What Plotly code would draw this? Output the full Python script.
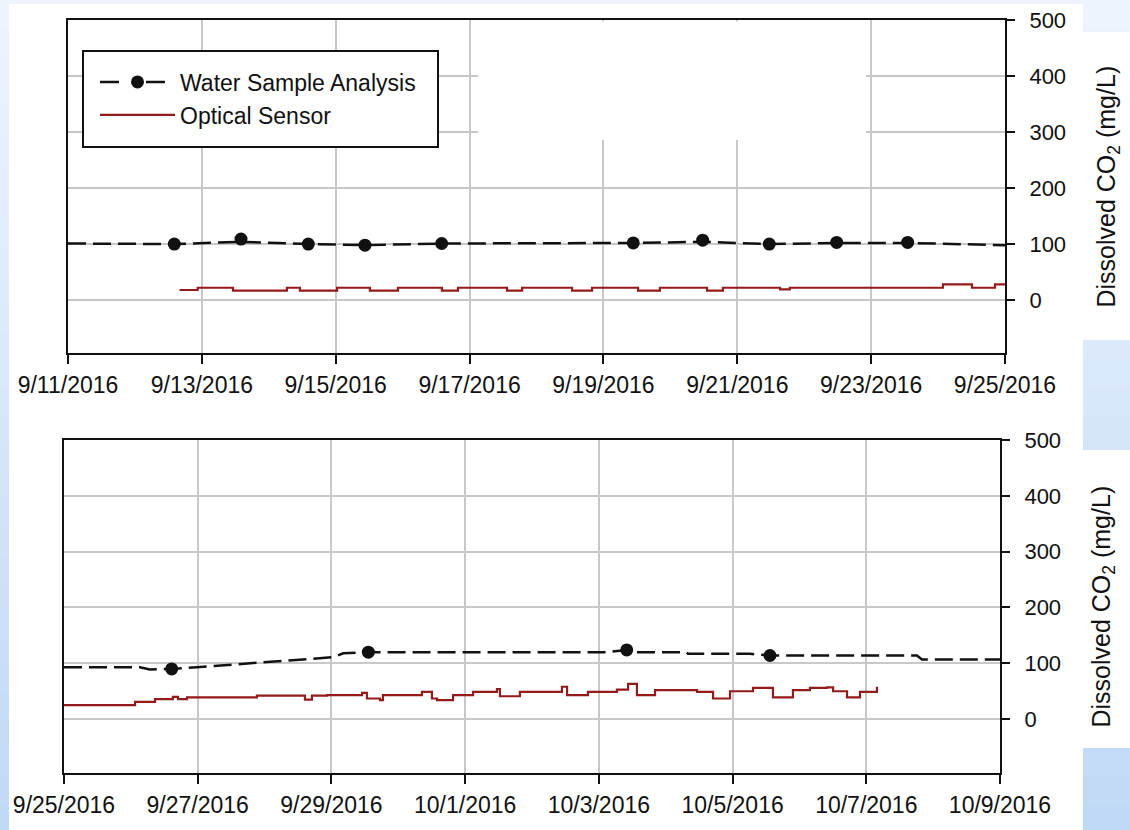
import plotly.graph_objects as go

W, H = 1130, 830

# ---------------- data ----------------
# Top panel: 9/11/2016 - 9/25/2016
top_sample_dates = ["2016-09-12 14:07", "2016-09-13 14:02", "2016-09-14 14:10", "2016-09-15 10:29",
                    "2016-09-16 14:00", "2016-09-19 10:42", "2016-09-20 11:35", "2016-09-21 11:28",
                    "2016-09-22 11:38", "2016-09-23 13:06"]
top_sample_co2 = [100, 109, 100, 98, 101, 102, 107, 100, 103, 103]

top_trend_dates = ["2016-09-11 00:00", "2016-09-12 14:07", "2016-09-13 14:02", "2016-09-14 14:10",
                   "2016-09-15 10:29", "2016-09-16 14:00", "2016-09-19 10:42", "2016-09-20 11:35",
                   "2016-09-21 11:28", "2016-09-22 11:38", "2016-09-23 13:06", "2016-09-25 00:00"]
top_trend_co2 = [101, 100, 104, 100, 98, 101, 102, 104, 100, 102, 102, 98]

top_sensor_dates = ["2016-09-12 16:00", "2016-09-12 22:30", "2016-09-13 11:10", "2016-09-14 06:30",
                    "2016-09-14 11:10", "2016-09-15 00:30", "2016-09-15 12:15", "2016-09-15 22:20",
                    "2016-09-16 14:05", "2016-09-16 19:50", "2016-09-17 13:25", "2016-09-17 18:50",
                    "2016-09-18 12:45", "2016-09-18 19:55", "2016-09-19 12:25", "2016-09-19 20:15",
                    "2016-09-20 13:10", "2016-09-20 18:50", "2016-09-21 15:20", "2016-09-21 18:50",
                    "2016-09-24 01:45", "2016-09-24 12:10", "2016-09-24 20:25", "2016-09-25 00:00"]
top_sensor_co2 = [18, 22, 17, 22, 17, 22, 17, 22, 17, 22, 17, 22,
                  17, 22, 17, 22, 17, 22, 19, 22, 28, 22, 28, 28]

# Bottom panel: 9/25/2016 - 10/9/2016
bot_sample_dates = ["2016-09-26 14:40", "2016-09-29 13:15", "2016-10-03 10:00", "2016-10-05 13:25"]
bot_sample_co2 = [90, 120, 124, 114]

bot_trend_dates = ["2016-09-25 00:00", "2016-09-26 03:15", "2016-09-26 06:50", "2016-09-26 14:40",
                   "2016-09-26 23:40", "2016-09-27 17:35", "2016-09-28 06:45", "2016-09-29 00:40",
                   "2016-09-29 04:15", "2016-09-29 13:15", "2016-10-03 02:50", "2016-10-03 10:00",
                   "2016-10-03 12:00", "2016-10-04 07:30", "2016-10-04 08:00", "2016-10-05 06:15",
                   "2016-10-05 13:25", "2016-10-07 18:10", "2016-10-07 20:00", "2016-10-09 00:00"]
bot_trend_co2 = [93, 93, 89, 90, 93, 100, 105, 111, 118, 120, 120, 124,
                 120, 120, 117, 117, 114, 114, 107, 107]

bot_sensor_dates = ["2016-09-25 00:00", "2016-09-26 01:30", "2016-09-26 08:40", "2016-09-26 15:05",
                    "2016-09-26 16:55", "2016-09-26 20:10", "2016-09-27 21:15", "2016-09-28 14:30",
                    "2016-09-28 17:00", "2016-09-28 22:25", "2016-09-29 11:00", "2016-09-29 12:45",
                    "2016-09-29 17:25", "2016-09-29 18:30", "2016-09-30 08:30", "2016-09-30 12:05",
                    "2016-09-30 13:55", "2016-09-30 19:40", "2016-10-01 02:50", "2016-10-01 11:25",
                    "2016-10-01 12:30", "2016-10-01 19:40", "2016-10-02 10:45", "2016-10-02 12:35",
                    "2016-10-02 20:05", "2016-10-03 06:30", "2016-10-03 10:30", "2016-10-03 13:40",
                    "2016-10-03 20:10", "2016-10-04 11:15", "2016-10-04 17:00", "2016-10-04 23:05",
                    "2016-10-05 07:20", "2016-10-05 14:30", "2016-10-05 21:40", "2016-10-06 03:45",
                    "2016-10-06 09:55", "2016-10-06 12:05", "2016-10-06 17:05", "2016-10-06 21:45",
                    "2016-10-07 03:50"]
bot_sensor_co2 = [25, 31, 36, 40, 36, 39, 42, 35, 42, 43, 47, 37,
                  34, 43, 49, 37, 34, 43, 49, 54, 41, 49, 58, 43,
                  49, 53, 63, 43, 52, 49, 37, 50, 56, 39, 52, 56,
                  57, 50, 39, 49, 58]

x_tick_fmt = "%-m/%-d/%Y"
y_ticks = [0, 100, 200, 300, 400, 500]

# ---------------- styles ----------------
FONT = "Arial, Liberation Sans, sans-serif"
BLACK = "#111111"
RED = "#951a1a"
GRID = "#c8c8c8"
DASH = "18px,7px"

fig = go.Figure()

# top panel
fig.add_trace(go.Scatter(x=top_sensor_dates, y=top_sensor_co2, mode="lines", line_shape="hv",
                         line=dict(color=RED, width=2.2), name="Optical Sensor",
                         xaxis="x", yaxis="y", showlegend=False))
fig.add_trace(go.Scatter(x=top_trend_dates, y=top_trend_co2, mode="lines",
                         line=dict(color=BLACK, width=2.5, dash=DASH),
                         xaxis="x", yaxis="y", showlegend=False, hoverinfo="skip"))
fig.add_trace(go.Scatter(x=top_sample_dates, y=top_sample_co2, mode="markers",
                         marker=dict(color=BLACK, size=13, symbol="circle"),
                         name="Water Sample Analysis", xaxis="x", yaxis="y", showlegend=False))

# bottom panel
fig.add_trace(go.Scatter(x=bot_sensor_dates, y=bot_sensor_co2, mode="lines", line_shape="hv",
                         line=dict(color=RED, width=2.2), name="Optical Sensor",
                         xaxis="x2", yaxis="y2", showlegend=False))
fig.add_trace(go.Scatter(x=bot_trend_dates, y=bot_trend_co2, mode="lines",
                         line=dict(color=BLACK, width=2.5, dash=DASH),
                         xaxis="x2", yaxis="y2", showlegend=False, hoverinfo="skip"))
fig.add_trace(go.Scatter(x=bot_sample_dates, y=bot_sample_co2, mode="markers",
                         marker=dict(color=BLACK, size=13, symbol="circle"),
                         name="Water Sample Analysis", xaxis="x2", yaxis="y2", showlegend=False))

# legend entries (one legend per row, framed by a shape)
fig.add_trace(go.Scatter(x=[None], y=[None], mode="lines+markers", name="Water Sample Analysis",
                         line=dict(color=BLACK, width=2.5, dash="19px,27px"),
                         marker=dict(color=BLACK, size=13), xaxis="x", yaxis="y", legend="legend"))
fig.add_trace(go.Scatter(x=[None], y=[None], mode="lines", name="Optical Sensor",
                         line=dict(color=RED, width=2.2), xaxis="x", yaxis="y", legend="legend2"))


def xaxis_cfg(x0, x1, start, end, anchor):
    return dict(domain=[x0 / W, x1 / W], range=[start, end], type="date", anchor=anchor,
                tickformat=x_tick_fmt, tick0=start, dtick=2 * 86400000,
                ticks="outside", ticklen=9, tickwidth=2, tickcolor=BLACK,
                showline=True, linewidth=2, linecolor=BLACK, mirror=True,
                showgrid=True, gridcolor=GRID, gridwidth=1.5, zeroline=False,
                tickfont=dict(family=FONT, size=23, color=BLACK), automargin=False,
                ticklabelstandoff=1)


def yaxis_cfg(y_top, y_bot, lo, anchor):
    return dict(domain=[1 - y_bot / H, 1 - y_top / H], range=[lo, 500], side="right",
                anchor=anchor, tickvals=y_ticks, ticks="outside", ticklen=8, tickwidth=2,
                tickcolor=BLACK, showline=True, linewidth=2, linecolor=BLACK, mirror=True,
                showgrid=True, gridcolor=GRID, gridwidth=1.5, zeroline=False,
                tickfont=dict(family=FONT, size=22, color=BLACK), automargin=False,
                ticklabelstandoff=10,
                title=dict(text="Dissolved CO<sub>2</sub> (mg/L)", standoff=32,
                           font=dict(family=FONT, size=25, color=BLACK)))


def px_rect(px0, py0, px1, py1, **kw):
    d = dict(type="rect", xref="paper", yref="paper",
             x0=px0 / W, x1=px1 / W, y0=1 - py1 / H, y1=1 - py0 / H)
    d.update(kw)
    return d


# background decoration (slide-like blue gradient with white panels)
shapes = []
N = 30
top_c = (0xEE, 0xF4, 0xFD)
bot_c = (0xC0, 0xD9, 0xF6)
for i in range(N):
    t = i / (N - 1)
    c = tuple(round(top_c[k] + (bot_c[k] - top_c[k]) * t) for k in range(3))
    shapes.append(px_rect(0, i * H / N, W, (i + 1) * H / N + 0.5, layer="below",
                          fillcolor="rgb(%d,%d,%d)" % c, line=dict(width=0)))
for (a, b, c_, d_) in [(9, 4, 1083, 830), (1083, 32, 1130, 340), (1083, 450, 1130, 748)]:
    shapes.append(px_rect(a, b, c_, d_, layer="below", fillcolor="white", line=dict(width=0)))
# blank area in the top-right of the upper plot
shapes.append(px_rect(478, 21.5, 866, 140, layer="above", fillcolor="white", line=dict(width=0)))
# legend frame
shapes.append(px_rect(83, 51, 438, 147, layer="above", fillcolor="white",
                      line=dict(color=BLACK, width=2)))

legend_common = dict(xanchor="left", yanchor="middle", bgcolor="rgba(0,0,0,0)",
                     borderwidth=0, font=dict(family=FONT, size=23, color=BLACK),
                     itemwidth=75, tracegroupgap=0)

fig.update_layout(
    width=W, height=H,
    margin=dict(l=0, r=0, t=0, b=0),
    paper_bgcolor="white", plot_bgcolor="white",
    font=dict(family=FONT, size=22, color=BLACK),
    xaxis=xaxis_cfg(68, 1005, "2016-09-11", "2016-09-25", "y"),
    yaxis=yaxis_cfg(20, 353.3, -95, "x"),
    xaxis2=xaxis_cfg(64, 1000, "2016-09-25", "2016-10-09", "y2"),
    yaxis2=yaxis_cfg(440, 773.3, -97, "x2"),
    showlegend=True,
    legend=dict(x=95 / W, y=1 - 82 / H, **legend_common),
    legend2=dict(x=95 / W, y=1 - 115 / H, **legend_common),
    shapes=shapes,
)

fig.write_html("out.html", config={"displayModeBar": False},
               post_script="document.body.style.margin='0';document.body.style.overflow='hidden';")
